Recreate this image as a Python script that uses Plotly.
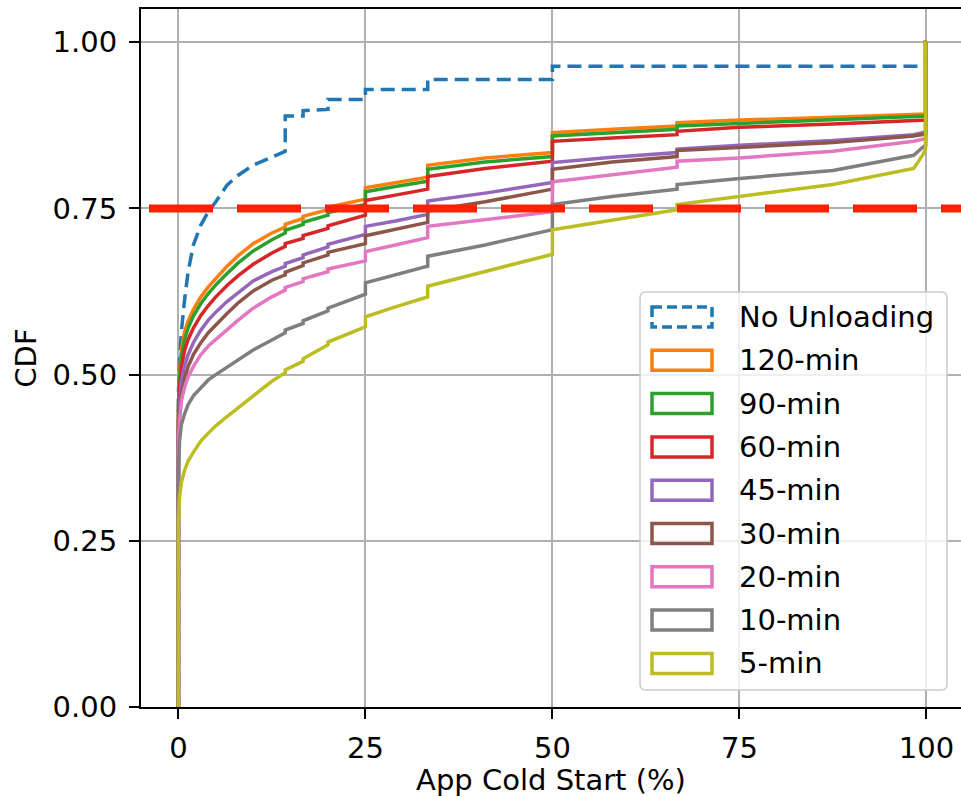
import plotly.graph_objects as go

# ---------------- data ----------------
X_GRID = [0, 0, 0.15, 0.4, 0.8, 1.3, 2, 3, 4, 5, 6.5, 8, 10, 12.5,
          14.28, 14.28, 16.67, 16.67, 20, 20, 25, 25, 29, 33.33, 33.33, 41,
          50, 50, 58, 66.67, 66.67, 75, 87.5, 98.3, 99.5, 99.9, 99.9, 100]

SERIES_NAMES = ["No Unloading", "120-min", "90-min", "60-min", "45-min",
                "30-min", "20-min", "10-min", "5-min"]

no_unloading = [0, 0.47, 0.52, 0.565, 0.61, 0.655, 0.695, 0.725, 0.745, 0.76, 0.785, 0.80, 0.815, 0.827,
                0.836, 0.889, 0.889, 0.897, 0.899, 0.914, 0.914, 0.929, 0.929, 0.929, 0.944, 0.944,
                0.944, 0.964, 0.964, 0.964, 0.964, 0.964, 0.964, 0.964, 0.964, 0.964, 1.0, 1.0]
min_120 = [0, 0.45, 0.505, 0.538, 0.563, 0.581, 0.598, 0.617, 0.632, 0.645, 0.663, 0.679, 0.697, 0.713,
           0.722, 0.726, 0.735, 0.738, 0.748, 0.752, 0.764, 0.781, 0.789, 0.797, 0.815, 0.826,
           0.834, 0.864, 0.869, 0.874, 0.879, 0.883, 0.887, 0.891, 0.892, 0.892, 1.0, 1.0]
min_90 = [0, 0.44, 0.495, 0.527, 0.552, 0.57, 0.588, 0.607, 0.622, 0.635, 0.652, 0.668, 0.686, 0.703,
          0.713, 0.717, 0.726, 0.729, 0.74, 0.744, 0.756, 0.775, 0.783, 0.791, 0.809, 0.82,
          0.828, 0.859, 0.864, 0.869, 0.874, 0.878, 0.884, 0.888, 0.889, 0.889, 1.0, 1.0]
min_60 = [0, 0.43, 0.48, 0.51, 0.535, 0.553, 0.57, 0.589, 0.604, 0.617, 0.634, 0.649, 0.666, 0.683,
          0.693, 0.697, 0.705, 0.709, 0.72, 0.724, 0.74, 0.762, 0.77, 0.779, 0.798, 0.81,
          0.821, 0.851, 0.856, 0.861, 0.866, 0.872, 0.877, 0.882, 0.883, 0.883, 1.0, 1.0]
min_45 = [0, 0.41, 0.455, 0.49, 0.512, 0.53, 0.548, 0.567, 0.582, 0.594, 0.61, 0.624, 0.641, 0.655,
          0.663, 0.667, 0.676, 0.68, 0.692, 0.696, 0.711, 0.723, 0.731, 0.741, 0.761, 0.773,
          0.789, 0.819, 0.827, 0.834, 0.839, 0.845, 0.852, 0.861, 0.864, 0.865, 1.0, 1.0]
min_30 = [0, 0.40, 0.44, 0.47, 0.493, 0.512, 0.53, 0.548, 0.563, 0.575, 0.592, 0.608, 0.626, 0.642,
          0.65, 0.654, 0.664, 0.668, 0.68, 0.684, 0.697, 0.709, 0.718, 0.729, 0.746, 0.76,
          0.779, 0.809, 0.82, 0.828, 0.837, 0.842, 0.849, 0.859, 0.861, 0.862, 1.0, 1.0]
min_20 = [0, 0.39, 0.43, 0.46, 0.48, 0.497, 0.512, 0.53, 0.543, 0.553, 0.568, 0.582, 0.60, 0.617,
          0.627, 0.631, 0.64, 0.644, 0.655, 0.659, 0.671, 0.685, 0.695, 0.706, 0.723, 0.733,
          0.745, 0.79, 0.80, 0.812, 0.821, 0.826, 0.836, 0.851, 0.854, 0.855, 1.0, 1.0]
min_10 = [0, 0.36, 0.40, 0.425, 0.44, 0.455, 0.468, 0.481, 0.492, 0.50, 0.511, 0.522, 0.537, 0.552,
          0.563, 0.567, 0.577, 0.581, 0.596, 0.600, 0.621, 0.638, 0.65, 0.663, 0.678, 0.695,
          0.718, 0.756, 0.768, 0.779, 0.786, 0.795, 0.807, 0.83, 0.842, 0.845, 1.0, 1.0]
min_5 = [0, 0.28, 0.315, 0.338, 0.355, 0.37, 0.383, 0.40, 0.412, 0.423, 0.437, 0.45, 0.468, 0.49,
         0.503, 0.507, 0.52, 0.524, 0.545, 0.549, 0.572, 0.587, 0.602, 0.617, 0.633, 0.655,
         0.681, 0.718, 0.733, 0.748, 0.756, 0.768, 0.786, 0.81, 0.83, 0.84, 1.0, 1.0]

SERIES_VALUES = [no_unloading, min_120, min_90, min_60, min_45, min_30, min_20, min_10, min_5]

X_TICKS = [0, 25, 50, 75, 100]
Y_TICKS = [0, 0.25, 0.5, 0.75, 1.0]
Y_TICK_LABELS = ["0.00", "0.25", "0.50", "0.75", "1.00"]
THRESHOLD = 0.75

# ---------------- styles ----------------
COLORS = ["#1f77b4", "#ff7f0e", "#2ca02c", "#d62728", "#9467bd",
          "#8c564b", "#e377c2", "#7f7f7f", "#bcbd22"]
DASHES = ["14px,7px"] + ["solid"] * 8
FONT = "DejaVu Sans"
FS = 29

W_FIG, H_FIG = 961, 797
L, R, T, B = 141, 0, 9, 90
PW, PH = W_FIG - L - R, H_FIG - T - B


def pxx(xp):
    return (xp - L) / PW


def pxy(yp):
    return (T + PH - yp) / PH


fig = go.Figure()
for name, vals, col, dash in zip(SERIES_NAMES, SERIES_VALUES, COLORS, DASHES):
    assert len(vals) == len(X_GRID)
    fig.add_trace(go.Scatter(x=X_GRID, y=vals, mode="lines", name=name,
                             line=dict(color=col, width=3.5, dash=dash),
                             showlegend=False, hoverinfo="skip"))

shapes = []
# 0.75 threshold line
shapes.append(dict(type="line", xref="paper", yref="y", x0=pxx(149), x1=1,
                   y0=THRESHOLD, y1=THRESHOLD,
                   line=dict(color="#ff2200", width=8, dash="64px,24px"), layer="above"))

# custom legend (matplotlib style with rectangle handles)
lx0, lx1, ly0, ly1, rr = 640, 947, 292, 690, 6
ax0, ax1, ay0, ay1 = pxx(lx0), pxx(lx1), pxy(ly0), pxy(ly1)
rx, ry = rr / PW, rr / PH
path = (f"M {ax0+rx},{ay0} L {ax1-rx},{ay0} Q {ax1},{ay0} {ax1},{ay0-ry} "
        f"L {ax1},{ay1+ry} Q {ax1},{ay1} {ax1-rx},{ay1} "
        f"L {ax0+rx},{ay1} Q {ax0},{ay1} {ax0},{ay1+ry} "
        f"L {ax0},{ay0-ry} Q {ax0},{ay0} {ax0+rx},{ay0} Z")
shapes.append(dict(type="path", xref="paper", yref="paper", path=path,
                   fillcolor="rgba(255,255,255,0.8)", line=dict(color="#cccccc", width=1.5),
                   layer="above"))
annotations = []
row0, row_step = 317, 43.3
for i, (name, col, dash) in enumerate(zip(SERIES_NAMES, COLORS, DASHES)):
    cy = row0 + i * row_step
    shapes.append(dict(type="rect", xref="paper", yref="paper",
                       x0=pxx(652), x1=pxx(712), y0=pxy(cy - 10), y1=pxy(cy + 10),
                       line=dict(color=col, width=3.5, dash="10px,5px" if dash != "solid" else "solid"),
                       fillcolor="rgba(0,0,0,0)", layer="above"))
    annotations.append(dict(xref="paper", yref="paper", x=pxx(737), y=pxy(cy),
                            text=name, showarrow=False, xanchor="left", yanchor="middle",
                            font=dict(family=FONT, size=FS, color="black")))

axis_common = dict(showgrid=True, gridcolor="#b0b0b0", gridwidth=1.5, zeroline=False,
                   showline=True, linecolor="black", linewidth=2,
                   ticks="outside", ticklen=10, tickwidth=2, tickcolor="black",
                   tickfont=dict(family=FONT, size=FS, color="black"))

fig.update_layout(
    width=W_FIG, height=H_FIG,
    margin=dict(l=L, r=R, t=T, b=B),
    plot_bgcolor="white", paper_bgcolor="white",
    font=dict(family=FONT, size=FS, color="black"),
    shapes=shapes, annotations=annotations,
    xaxis=dict(range=[-5, -5 + PW / 7.48], tickvals=X_TICKS, mirror=True,
               title=dict(text="App Cold Start (%)", font=dict(family=FONT, size=FS), standoff=8),
               ticklabelstandoff=4, **axis_common),
    yaxis=dict(range=[0, 1.05], tickvals=Y_TICKS, ticktext=Y_TICK_LABELS, mirror=False,
               title=dict(text="CDF", font=dict(family=FONT, size=FS), standoff=7),
               ticklabelstandoff=6, **axis_common),
)

fig.write_html("out.html")
